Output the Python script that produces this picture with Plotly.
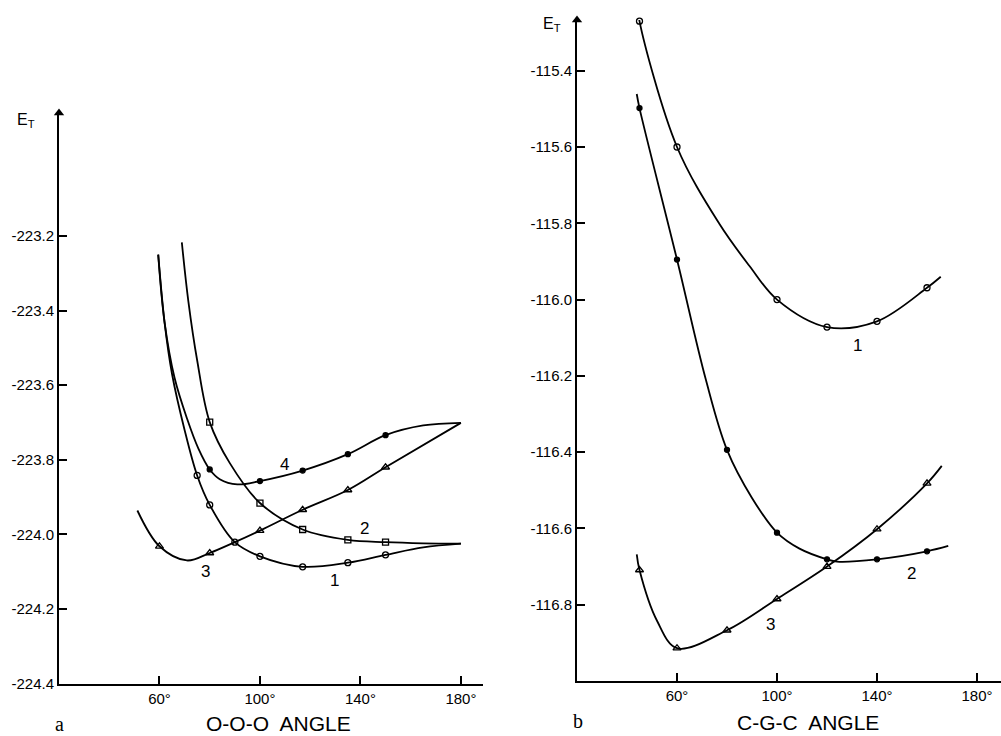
import plotly.graph_objects as go

# ---------------- data: panel a (O-O-O angle) ----------------
a1_x = [59.5, 62, 65, 70, 75, 80, 90, 100, 117, 135, 150, 165, 180]
a1_y = [-223.25, -223.43, -223.57, -223.72, -223.842, -223.921, -224.021, -224.059, -224.087, -224.076, -224.055, -224.035, -224.025]
a1_mx = [75, 80, 90, 100, 117, 135, 150]
a1_my = [-223.842, -223.921, -224.021, -224.059, -224.087, -224.076, -224.055]

a2_x = [68.9, 71.5, 75, 80, 88, 100, 117, 135, 150, 165, 180]
a2_y = [-223.217, -223.375, -223.533, -223.699, -223.809, -223.916, -223.987, -224.015, -224.021, -224.024, -224.025]
a2_mx = [80, 100, 117, 135, 150]
a2_my = [-223.699, -223.916, -223.987, -224.015, -224.021]

a3_x = [51.2, 60, 70.9, 80, 90, 100, 117, 135, 150, 180]
a3_y = [-223.936, -224.032, -224.070, -224.050, -224.021, -223.990, -223.934, -223.881, -223.820, -223.701]
a3_mx = [60, 80, 100, 117, 135, 150]
a3_my = [-224.032, -224.050, -223.990, -223.934, -223.881, -223.820]

a4_x = [59.5, 62, 66, 71, 75.5, 80, 84, 91, 100, 117, 135, 150, 165, 180]
a4_y = [-223.25, -223.43, -223.58, -223.69, -223.77, -223.826, -223.852, -223.866, -223.857, -223.829, -223.785, -223.734, -223.708, -223.701]
a4_mx = [80, 100, 117, 135, 150]
a4_my = [-223.826, -223.857, -223.829, -223.785, -223.734]

a_labels = ["1", "2", "3", "4"]
a_lab_x = [129.5, 141.7, 78.5, 109.7]
a_lab_y = [-224.123, -223.984, -224.10, -223.813]

# ---------------- data: panel b (C-C-C angle) ----------------
b1_x = [44.5, 45, 60, 77, 89, 100, 120, 140, 160, 165.5]
b1_y = [-115.237, -115.27, -115.60, -115.802, -115.912, -116.00, -116.072, -116.057, -115.969, -115.94]
b1_mx = [45, 60, 100, 120, 140, 160]
b1_my = [-115.27, -115.60, -116.00, -116.072, -116.057, -115.969]

b2_x = [43.9, 45, 60, 71.5, 80, 90, 100, 109, 120, 124, 140, 160, 168.5]
b2_y = [-115.461, -115.498, -115.895, -116.209, -116.394, -116.52, -116.611, -116.653, -116.681, -116.687, -116.681, -116.66, -116.646]
b2_mx = [45, 60, 80, 100, 120, 140, 160]
b2_my = [-115.498, -115.895, -116.394, -116.611, -116.681, -116.681, -116.66]

b3_x = [43.9, 45, 52, 60, 80, 100, 120, 140, 160, 165.9]
b3_y = [-116.668, -116.709, -116.842, -116.914, -116.867, -116.785, -116.70, -116.602, -116.482, -116.436]
b3_mx = [45, 60, 80, 100, 120, 140, 160]
b3_my = [-116.709, -116.914, -116.867, -116.785, -116.70, -116.602, -116.482]

b_labels = ["1", "2", "3"]
b_lab_x = [132.1, 153.9, 97.5]
b_lab_y = [-116.12, -116.717, -116.853]

x_ticks = [60, 100, 140, 180]
x_tick_text = ["60°", "100°", "140°", "180°"]
a_yticks = [-224.4, -224.2, -224.0, -223.8, -223.6, -223.4, -223.2]
b_yticks = [-116.8, -116.6, -116.4, -116.2, -116.0, -115.8, -115.6, -115.4]

A_YTOP = -222.87
B_YTOP = -115.267

SANS = "Liberation Sans Narrow, Liberation Sans, Arial, sans-serif"
SERIF = "Liberation Serif, Times New Roman, serif"

fig = go.Figure()

def curve(x, y, xa, ya):
    fig.add_trace(go.Scatter(x=x, y=y, mode="lines", xaxis=xa, yaxis=ya, cliponaxis=False,
                             line=dict(color="black", width=1.8, shape="spline", smoothing=1.0),
                             hoverinfo="skip", showlegend=False))

def marks(x, y, xa, ya, symbol, size):
    fig.add_trace(go.Scatter(x=x, y=y, mode="markers", xaxis=xa, yaxis=ya, cliponaxis=False,
                             marker=dict(symbol=symbol, size=size, color="black",
                                         line=dict(color="black", width=1.3)),
                             hoverinfo="skip", showlegend=False))

for cx, cy in [(a1_x, a1_y), (a2_x, a2_y), (a3_x, a3_y), (a4_x, a4_y)]:
    curve(cx, cy, "x", "y")
marks(a1_mx, a1_my, "x", "y", "circle-open", 6)
marks(a2_mx, a2_my, "x", "y", "square-open", 6)
marks(a3_mx, a3_my, "x", "y", "triangle-up-open", 7)
marks(a4_mx, a4_my, "x", "y", "circle", 5)

for cx, cy in [(b1_x, b1_y), (b2_x, b2_y), (b3_x, b3_y)]:
    curve(cx, cy, "x2", "y2")
marks(b1_mx, b1_my, "x2", "y2", "circle-open", 6)
marks(b2_mx, b2_my, "x2", "y2", "circle", 5)
marks(b3_mx, b3_my, "x2", "y2", "triangle-up-open", 7)

# arrowheads at the top of the energy axes
fig.add_trace(go.Scatter(x=[20], y=[A_YTOP], mode="markers", xaxis="x", yaxis="y", cliponaxis=False,
                         marker=dict(symbol="triangle-up", size=9, color="black"),
                         hoverinfo="skip", showlegend=False))
fig.add_trace(go.Scatter(x=[20], y=[B_YTOP], mode="markers", xaxis="x2", yaxis="y2", cliponaxis=False,
                         marker=dict(symbol="triangle-up", size=9, color="black"),
                         hoverinfo="skip", showlegend=False))

annotations = []
for t, x, y in zip(a_labels, a_lab_x, a_lab_y):
    annotations.append(dict(text=t, x=x, y=y, xref="x", yref="y", showarrow=False,
                            font=dict(family=SANS, size=17, color="black")))
for t, x, y in zip(b_labels, b_lab_x, b_lab_y):
    annotations.append(dict(text=t, x=x, y=y, xref="x2", yref="y2", showarrow=False,
                            font=dict(family=SANS, size=17, color="black")))

def paper_text(text, px, py, family, size):
    annotations.append(dict(text=text, x=px / 1001, y=1 - py / 736, xref="paper", yref="paper",
                            xanchor="center", yanchor="middle", showarrow=False,
                            font=dict(family=family, size=size, color="black")))

paper_text("E<sub>T</sub>", 26, 120, SANS, 16)
paper_text("E<sub>T</sub>", 552, 25, SANS, 16)
paper_text("O-O-O  ANGLE", 278, 723, SANS, 21)
paper_text("C-G-C  ANGLE", 808, 722, SANS, 21)
paper_text("a", 59, 724, SERIF, 20)
paper_text("b", 578, 721, SERIF, 20)

xcommon = dict(showgrid=False, zeroline=False, showline=True, linecolor="black", linewidth=2,
               ticks="inside", ticklen=8, tickwidth=2, tickcolor="black", tickvals=x_ticks,
               ticktext=x_tick_text, tickfont=dict(family=SANS, size=15, color="black"),
               automargin=False, fixedrange=True)
ycommon = dict(showgrid=False, zeroline=False, showline=True, linecolor="black", linewidth=2,
               ticks="inside", ticklen=8, tickwidth=2, tickcolor="black",
               tickfont=dict(family=SANS, size=15, color="black"), automargin=False, fixedrange=True)

fig.update_layout(
    width=1001, height=736, template="none",
    margin=dict(l=0, r=0, t=0, b=0),
    paper_bgcolor="white", plot_bgcolor="white",
    showlegend=False,
    xaxis=dict(domain=[59 / 1001, 483 / 1001], range=[20, 188.8], anchor="y", **xcommon),
    yaxis=dict(domain=[1 - 683.5 / 736, 1 - 113 / 736], range=[-224.4, A_YTOP], anchor="x",
               tickvals=a_yticks, ticktext=[f"{v:.1f}" for v in a_yticks], **ycommon),
    xaxis2=dict(domain=[577 / 1001, 1.0], range=[20, 189.6], anchor="y2", **xcommon),
    yaxis2=dict(domain=[1 - 681 / 736, 1 - 20 / 736], range=[-117.0, B_YTOP], anchor="x2",
                tickvals=b_yticks, ticktext=[f"{v:.1f}" for v in b_yticks], **ycommon),
    annotations=annotations,
)

fig.write_html("out.html")
